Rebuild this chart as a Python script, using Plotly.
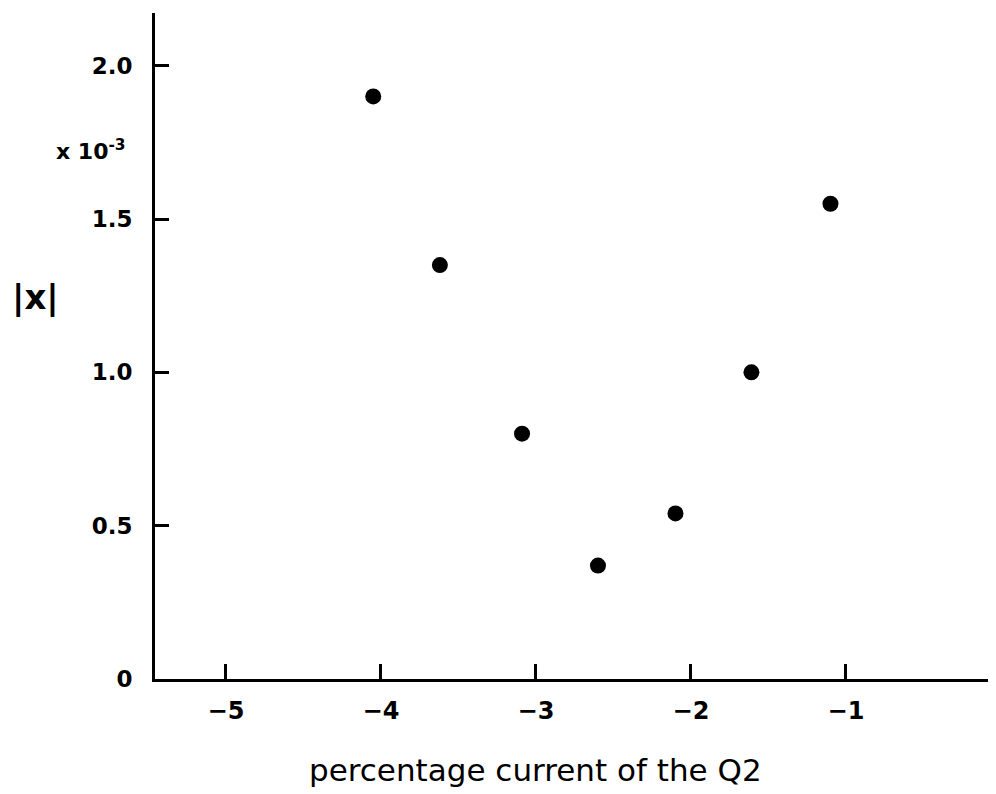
import plotly.graph_objects as go

# Data
x_vals = [-4.05, -3.62, -3.09, -2.60, -2.10, -1.61, -1.10]
y_vals = [1.90, 1.35, 0.80, 0.37, 0.54, 1.00, 1.55]

x_ticks = [-5, -4, -3, -2, -1]
x_tick_labels = ["−5", "−4", "−3", "−2", "−1"]
y_ticks = [0, 0.5, 1.0, 1.5, 2.0]
y_tick_labels = ["0", "0.5", "1.0", "1.5", "2.0"]

FONT = "DejaVu Sans"

fig = go.Figure()
fig.add_trace(go.Scatter(
    x=x_vals, y=y_vals, mode="markers",
    marker=dict(color="black", size=16, line=dict(width=0)),
    showlegend=False, hoverinfo="skip",
))

fig.update_layout(
    width=988, height=786,
    margin=dict(l=147, r=0, t=5, b=115),
    paper_bgcolor="white", plot_bgcolor="white",
    font=dict(family=FONT, color="black"),
    xaxis=dict(
        range=[-5.458, -0.032], showgrid=False, zeroline=False,
        showline=True, linecolor="black", linewidth=3,
        ticks="inside", ticklen=15, tickwidth=2.5, tickcolor="black",
        tickvals=x_ticks, ticktext=x_tick_labels,
        tickfont=dict(size=24, family=FONT, weight="bold"),
        ticklabelstandoff=8,
    ),
    yaxis=dict(
        range=[0, 2.172], showgrid=False, zeroline=False,
        showline=True, linecolor="black", linewidth=3,
        ticks="inside", ticklen=14, tickwidth=2.5, tickcolor="black",
        tickvals=y_ticks, ticktext=y_tick_labels,
        tickfont=dict(size=23, family=FONT, weight="bold"),
        ticklabelstandoff=15,
    ),
)

fig.add_annotation(
    text="x 10<sup>-3</sup>", xref="paper", yref="paper",
    x=-0.032, y=0.794, xanchor="right", yanchor="middle",
    showarrow=False, font=dict(size=22, family=FONT, weight="bold"),
)
fig.add_annotation(
    text="|x|", xref="paper", yref="paper",
    x=-0.172, y=0.574, xanchor="left", yanchor="middle",
    showarrow=False, font=dict(size=34, family=FONT, weight="bold"),
)
fig.add_annotation(
    text="percentage current of the Q2", xref="paper", yref="paper",
    x=0.452, y=-0.137, xanchor="center", yanchor="middle",
    showarrow=False, font=dict(size=31, family=FONT),
)

fig.write_html("out.html")
